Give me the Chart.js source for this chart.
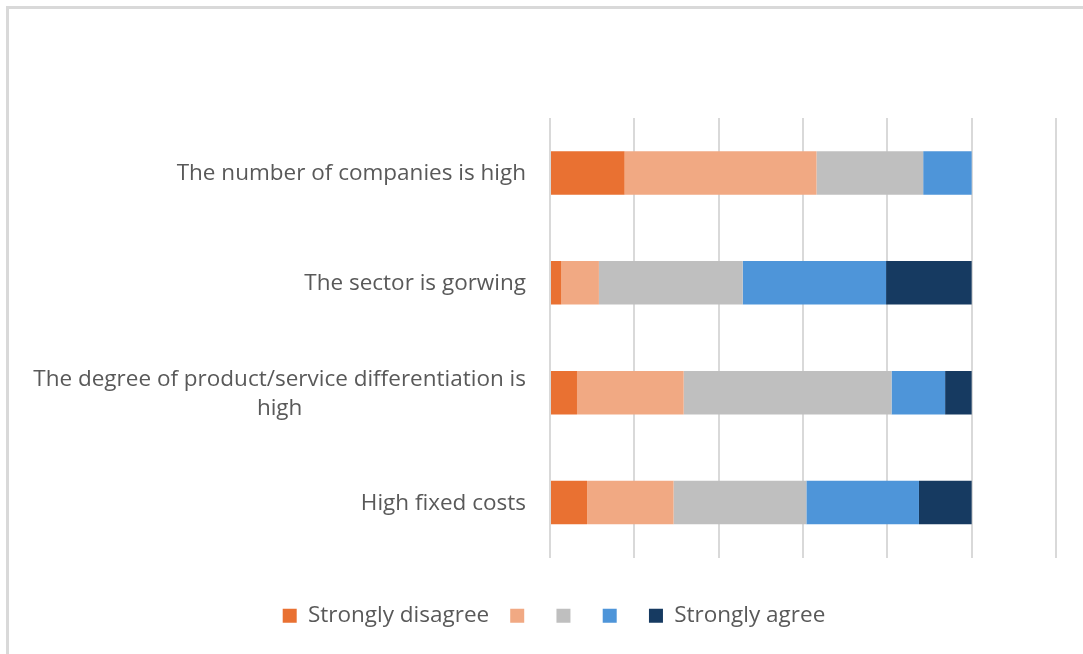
<!DOCTYPE html>
<html>
<head>
<meta charset="utf-8">
<script src="https://cdn.jsdelivr.net/npm/chart.js@4.4.1/dist/chart.umd.min.js"></script>
<style>
  html, body { margin: 0; padding: 0; background: #ffffff; }
  #wrap { position: relative; width: 1083px; height: 654px; }
  canvas { display: block; }
</style>
</head>
<body>
<div id="wrap"><canvas id="chart" width="1083" height="654"></canvas></div>
<script>
// Survey statements (top to bottom) and share of answers per response level, in %
const categories = [
  ["The number of companies is high"],
  ["The sector is gorwing"],
  ["The degree of product/service differentiation is", "high"],
  ["High fixed costs"]
];
const seriesNames = ["Strongly disagree", "", "", "", "Strongly agree"];
const stronglyDisagree = [17.7, 2.7, 6.4, 8.8];
const disagree         = [45.5, 8.9, 25.3, 20.5];
const neutral          = [25.3, 34.1, 49.3, 31.5];
const agree            = [11.5, 34.0, 12.7, 26.7];
const stronglyAgree    = [0.0, 20.3, 6.3, 12.5];
const axisMax = 120;
const axisStep = 20;

const seriesValues = [stronglyDisagree, disagree, neutral, agree, stronglyAgree];
const seriesColors = ["#E97132", "#F1A983", "#BFBFBF", "#4E95D9", "#163A61"];

const fontFamily = '"Open Sans", "Noto Sans", sans-serif';
const fontSize = 22.5;
const textColor = "#595959";

// Frame lines along the left and top edges, plus the wrapped category labels
const decorations = {
  id: "decorations",
  beforeDraw(chart) {
    const ctx = chart.ctx;
    ctx.save();
    ctx.fillStyle = "#d9d9d9";
    ctx.fillRect(6, 6, 3, chart.height - 6);
    ctx.fillRect(6, 6, chart.width - 6, 3);
    ctx.restore();
  },
  afterDraw(chart) {
    const ctx = chart.ctx;
    const y = chart.scales.y;
    const rightEdge = chart.chartArea.left - 24;
    const lineGap = 29;
    ctx.save();
    ctx.font = fontSize + "px " + fontFamily;
    ctx.fillStyle = textColor;
    ctx.textBaseline = "middle";
    categories.forEach((lines, i) => {
      const cy = y.getPixelForValue(i) + 1;
      const widths = lines.map(t => ctx.measureText(t).width);
      const blockW = Math.max(...widths);
      const startY = cy - (lines.length - 1) * lineGap / 2;
      lines.forEach((t, k) => {
        if (lines.length === 1) {
          ctx.textAlign = "right";
          ctx.fillText(t, rightEdge, startY);
        } else {
          ctx.textAlign = "center";
          ctx.fillText(t, rightEdge - blockW / 2, startY + k * lineGap);
        }
      });
    });
    ctx.restore();
  }
};

const padLeft = 52;
const plotLeft = 550;

new Chart(document.getElementById("chart"), {
  type: "bar",
  data: {
    labels: categories.map(c => c.join(" ")),
    datasets: seriesValues.map((vals, i) => ({
      label: seriesNames[i],
      data: vals,
      backgroundColor: seriesColors[i],
      borderWidth: 0,
      categoryPercentage: 1,
      barPercentage: 0.395
    }))
  },
  options: {
    indexAxis: "y",
    responsive: false,
    animation: false,
    layout: { padding: { left: padLeft, right: 27, top: 118, bottom: 17 } },
    scales: {
      x: {
        stacked: true,
        min: 0,
        max: axisMax,
        ticks: { display: false, stepSize: axisStep },
        grid: { color: "#d9d9d9", lineWidth: 2, drawTicks: false },
        border: { display: false },
        afterFit(axis) { axis.height = 26; }
      },
      y: {
        stacked: true,
        ticks: { display: false },
        grid: { display: false },
        border: { display: false },
        afterFit(axis) { axis.width = plotLeft - padLeft; }
      }
    },
    plugins: {
      tooltip: { enabled: false },
      legend: {
        position: "bottom",
        labels: {
          color: textColor,
          font: { family: fontFamily, size: fontSize },
          boxWidth: 14,
          boxHeight: 14,
          padding: 21
        }
      }
    }
  },
  plugins: [decorations]
});
</script>
</body>
</html>
